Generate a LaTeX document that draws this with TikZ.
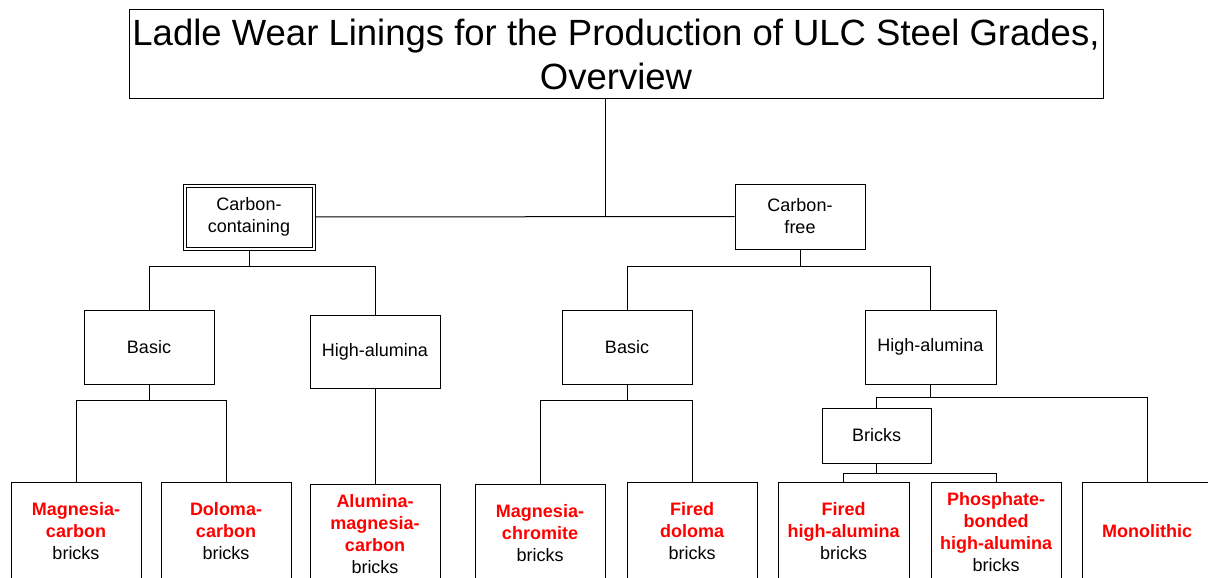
\documentclass[tikz,border=0pt]{standalone}
\usepackage{fontspec}
\setmainfont{Liberation Sans}
\usetikzlibrary{backgrounds}
\definecolor{lred}{RGB}{255,0,0}
\newcommand{\redb}[1]{\textcolor{lred}{\bfseries #1}}
\begin{document}
\begin{tikzpicture}[x=1pt,y=-1pt,
  box/.style={draw, line width=1pt, fill=white, inner sep=0pt, align=center,
    font=\fontsize{18}{22}\selectfont},
  mid/.style={box, minimum width=130pt, minimum height=74pt},
  leaf/.style={box, minimum width=130pt, minimum height=98pt},
  conn/.style={line width=1pt}]
\useasboundingbox (0,0) rectangle (1208,578);
\clip (0,0) rectangle (1208,578);
% level 0
\node[box, minimum width=974pt, minimum height=88pt,
  font=\fontsize{36.5}{44}\selectfont] (title) at (616,54)
  {Ladle Wear Linings for the Production of ULC Steel Grades,\\Overview};
% level 1
\node[box, double, double distance=2pt, minimum width=129pt, minimum height=63pt] (cc) at (249,217) {Carbon-\\containing};
\node[box, minimum width=130pt, minimum height=65pt] (cf) at (800,216.5) {Carbon-\\free};
% level 2
\node[mid] (basL) at (149,347) {Basic};
\node[mid, minimum height=73pt] (haL) at (375,351.5) {High-alumina};
\node[mid] (basR) at (627,347) {Basic};
\node[mid, minimum width=131pt] (haR) at (930.5,347) {High-alumina};
\node[box, minimum width=109pt, minimum height=55pt] (bricks) at (876.5,435.5) {Bricks};
% leaves
\node[leaf] (mc) at (76,531) {\redb{Magnesia-}\\\redb{carbon}\\bricks};
\node[leaf] (dc) at (226,531) {\redb{Doloma-}\\\redb{carbon}\\bricks};
\node[leaf, minimum height=100pt] (amc) at (375,534) {\redb{Alumina-}\\\redb{magnesia-}\\\redb{carbon}\\bricks};
\node[leaf] (mch) at (540,533) {\redb{Magnesia-}\\\redb{chromite}\\bricks};
\node[leaf] (fd) at (692,531) {\redb{Fired}\\\redb{doloma}\\bricks};
\node[leaf, minimum width=131pt] (fha) at (843.5,531) {\redb{Fired}\\\redb{high-alumina}\\bricks};
\node[leaf, minimum height=101pt] (pb) at (996,532.5) {\redb{Phosphate-}\\\redb{bonded}\\\redb{high-alumina}\\bricks};
\node[leaf] (mono) at (1147,531) {\redb{Monolithic}};
% junction coordinates
\coordinate (j0) at (605,216);
\coordinate (j1) at (0,266);
\coordinate (j2) at (0,400);
\coordinate (j3) at (0,397);
\coordinate (j4) at (0,473);
\begin{scope}[on background layer]
\draw[conn] (j0 |- title.south) -- (j0);
\draw[conn] (cc.east) -- (cf.west);
\draw[conn] (cc.south) -- (cc.south |- j1);
\draw[conn] (basL.north) -- (basL.north |- j1) -- (haL.north |- j1) -- (haL.north);
\draw[conn] (cf.south) -- (cf.south |- j1);
\draw[conn] (basR.north) -- (basR.north |- j1) -- (haR.north |- j1) -- (haR.north);
\draw[conn] (basL.south) -- (basL.south |- j2);
\draw[conn] (mc.north) -- (mc.north |- j2) -- (dc.north |- j2) -- (dc.north);
\draw[conn] (haL.south) -- (amc.north);
\draw[conn] (basR.south) -- (basR.south |- j2);
\draw[conn] (mch.north) -- (mch.north |- j2) -- (fd.north |- j2) -- (fd.north);
\draw[conn] (haR.south) -- (haR.south |- j3);
\draw[conn] (bricks.north) -- (bricks.north |- j3) -- (mono.north |- j3) -- (mono.north);
\draw[conn] (bricks.south) -- (bricks.south |- j4);
\draw[conn] (fha.north) -- (fha.north |- j4) -- (pb.north |- j4) -- (pb.north);
\end{scope}
\end{tikzpicture}
\end{document}
